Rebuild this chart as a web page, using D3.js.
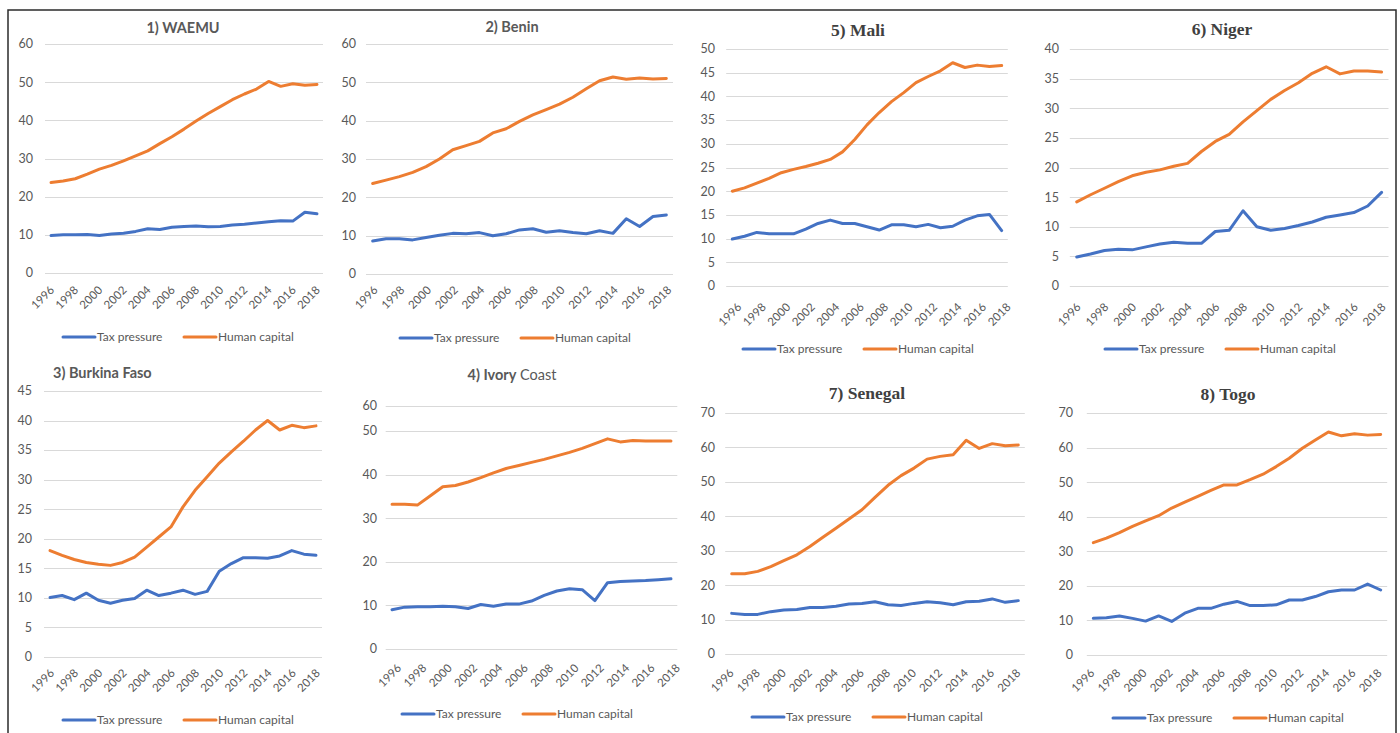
<!DOCTYPE html>
<html>
<head>
<meta charset="utf-8">
<script src="https://cdn.jsdelivr.net/npm/d3@7"></script>
<style>
  body { margin: 0; background: #fff; }
  svg { display: block; }
  text { font-family: Lato, "Open Sans", sans-serif; fill: #595959; }
</style>
</head>
<body>
<div id="chart"></div>
<script>
const years = [1996, 1997, 1998, 1999, 2000, 2001, 2002, 2003, 2004, 2005, 2006, 2007,
               2008, 2009, 2010, 2011, 2012, 2013, 2014, 2015, 2016, 2017, 2018];
const tickYears = [1996, 1998, 2000, 2002, 2004, 2006, 2008, 2010, 2012, 2014, 2016, 2018];
const seriesNames = ["Tax pressure", "Human capital"];
const seriesColors = ["#4472c4", "#ed7d31"];

const ticks60 = [0, 10, 20, 30, 40, 50, 60];
const ticks50 = [0, 5, 10, 15, 20, 25, 30, 35, 40, 45, 50];
const ticks45 = [0, 5, 10, 15, 20, 25, 30, 35, 40, 45];
const ticks40 = [0, 5, 10, 15, 20, 25, 30, 35, 40];
const ticks70 = [0, 10, 20, 30, 40, 50, 60, 70];

const waemuTax   = [9.8, 10.0, 10.0, 10.1, 9.8, 10.2, 10.4, 10.9, 11.6, 11.4, 12.0, 12.2, 12.3, 12.1, 12.2, 12.6, 12.8, 13.1, 13.4, 13.7, 13.6, 15.9, 15.5];
const waemuHuman = [23.7, 24.1, 24.7, 25.9, 27.2, 28.2, 29.4, 30.7, 32.0, 33.9, 35.7, 37.7, 39.8, 41.8, 43.6, 45.4, 46.9, 48.2, 50.2, 48.9, 49.6, 49.2, 49.4];

const beninTax   = [8.6, 9.2, 9.2, 8.9, 9.5, 10.1, 10.6, 10.5, 10.8, 10.0, 10.5, 11.5, 11.8, 10.9, 11.3, 10.8, 10.5, 11.3, 10.6, 14.4, 12.4, 15.0, 15.4];
const beninHuman = [23.6, 24.5, 25.4, 26.5, 28.0, 30.0, 32.4, 33.5, 34.6, 36.8, 37.9, 39.8, 41.5, 42.9, 44.3, 46.1, 48.3, 50.4, 51.4, 50.8, 51.1, 50.9, 51.0];

const burkinaTax   = [10.05, 10.4, 9.7, 10.8, 9.6, 9.1, 9.6, 9.9, 11.3, 10.4, 10.8, 11.3, 10.6, 11.1, 14.5, 15.8, 16.8, 16.8, 16.7, 17.1, 18.0, 17.4, 17.2];
const burkinaHuman = [18.0, 17.2, 16.5, 16.0, 15.7, 15.5, 16.0, 16.9, 18.6, 20.3, 22.0, 25.4, 28.2, 30.5, 32.8, 34.7, 36.5, 38.4, 40.0, 38.4, 39.2, 38.8, 39.1];

const ivoryTax   = [9.0, 9.6, 9.7, 9.7, 9.8, 9.7, 9.3, 10.2, 9.8, 10.3, 10.3, 11.0, 12.3, 13.3, 13.8, 13.6, 11.1, 15.2, 15.5, 15.6, 15.7, 15.9, 16.1];
const ivoryHuman = [33.2, 33.2, 33.0, 35.1, 37.2, 37.5, 38.3, 39.3, 40.4, 41.4, 42.1, 42.8, 43.5, 44.3, 45.1, 46.0, 47.1, 48.2, 47.5, 47.8, 47.7, 47.7, 47.7];

const maliTax   = [9.9, 10.5, 11.3, 11.0, 11.0, 11.0, 12.0, 13.2, 13.9, 13.2, 13.2, 12.5, 11.8, 12.9, 12.9, 12.5, 13.0, 12.3, 12.6, 13.9, 14.8, 15.1, 11.7];
const maliHuman = [20.0, 20.7, 21.7, 22.7, 23.9, 24.6, 25.2, 25.9, 26.7, 28.3, 30.9, 34.0, 36.6, 38.9, 40.8, 42.9, 44.2, 45.4, 47.1, 46.1, 46.6, 46.3, 46.5];

const nigerTax   = [4.9, 5.4, 6.0, 6.2, 6.1, 6.6, 7.1, 7.4, 7.2, 7.2, 9.2, 9.4, 12.7, 10.0, 9.4, 9.7, 10.2, 10.8, 11.6, 12.0, 12.4, 13.5, 15.8];
const nigerHuman = [14.2, 15.4, 16.5, 17.6, 18.6, 19.2, 19.6, 20.2, 20.7, 22.7, 24.4, 25.6, 27.7, 29.6, 31.5, 33.0, 34.3, 35.9, 37.0, 35.8, 36.3, 36.3, 36.1];

const senegalTax   = [11.8, 11.5, 11.5, 12.3, 12.8, 12.9, 13.5, 13.5, 13.9, 14.5, 14.7, 15.2, 14.3, 14.1, 14.7, 15.2, 14.9, 14.3, 15.2, 15.3, 16.0, 15.0, 15.5];
const senegalHuman = [23.3, 23.3, 24.0, 25.4, 27.1, 28.8, 31.2, 33.9, 36.5, 39.2, 41.9, 45.5, 49.0, 51.8, 54.0, 56.6, 57.4, 57.9, 62.1, 59.7, 61.1, 60.5, 60.7];

const togoTax   = [10.6, 10.8, 11.3, 10.6, 9.8, 11.3, 9.7, 12.1, 13.5, 13.5, 14.7, 15.5, 14.3, 14.3, 14.5, 15.9, 15.9, 16.9, 18.3, 18.8, 18.8, 20.5, 18.8];
const togoHuman = [32.5, 33.8, 35.4, 37.2, 38.8, 40.3, 42.5, 44.2, 45.9, 47.6, 49.2, 49.2, 50.7, 52.3, 54.5, 56.9, 59.8, 62.2, 64.5, 63.4, 64.0, 63.6, 63.8];

// layout of the eight small charts (pixel boxes copied off the figure)
const panels = [
  { title: ["1) WAEMU"], serif: false, tax: waemuTax, human: waemuHuman, ticks: ticks60,
    xr: [45, 323], yd: [0, 60], yr: [273, 44], labelX: 33, titleX: 183, titleY: 28, titleAnchor: "middle",
    lab: [1, 15], legendX: 63, legendY: 337 },
  { title: ["2) Benin"], serif: false, tax: beninTax, human: beninHuman, ticks: ticks60,
    xr: [366, 673], yd: [0, 60], yr: [274, 44], labelX: 356, titleX: 512, titleY: 27, titleAnchor: "middle",
    lab: [3, 14], legendX: 400, legendY: 338 },
  { title: ["3) Burkina Faso"], serif: false, tax: burkinaTax, human: burkinaHuman, ticks: ticks45,
    xr: [44, 322], yd: [0, 45], yr: [657, 391], labelX: 32, titleX: 53, titleY: 373, titleAnchor: "start",
    lab: [2, 14], legendX: 63, legendY: 720 },
  { title: ["4) Ivory", " Coast"], serif: false, tax: ivoryTax, human: ivoryHuman, ticks: ticks60,
    xr: [385.7, 677.3], yd: [0, 50, 60], yr: [649, 431, 406], labelX: 377, titleX: 512, titleY: 375, titleAnchor: "middle",
    lab: [7, 17], legendX: 402, legendY: 714 },
  { title: ["5) Mali"], serif: true, tax: maliTax, human: maliHuman, ticks: ticks50,
    xr: [726.2, 1007.8], yd: [0, 50], yr: [286, 49], labelX: 715, titleX: 858, titleY: 30, titleAnchor: "middle",
    lab: [7, 19], legendX: 743, legendY: 349 },
  { title: ["6) Niger"], serif: true, tax: nigerTax, human: nigerHuman, ticks: ticks40,
    xr: [1069.8, 1388.5], yd: [0, 40], yr: [286, 49], labelX: 1059, titleX: 1222, titleY: 29, titleAnchor: "middle",
    lab: [2, 19], legendX: 1105, legendY: 349 },
  { title: ["7) Senegal"], serif: true, tax: senegalTax, human: senegalHuman, ticks: ticks70,
    xr: [725.2, 1024.8], yd: [0, 70], yr: [654, 413], labelX: 715, titleX: 867, titleY: 393, titleAnchor: "middle",
    lab: [0, 17], legendX: 752, legendY: 717 },
  { title: ["8) Togo"], serif: true, tax: togoTax, human: togoHuman, ticks: ticks70,
    xr: [1086.8, 1387.2], yd: [0, 70], yr: [655, 413], labelX: 1073, titleX: 1228, titleY: 394, titleAnchor: "middle",
    lab: [-1, 16], legendX: 1113, legendY: 718 }
];

const width = 1400, height = 733;

let svg = d3.select("#chart")
  .append("svg")
  .attr("width", width)
  .attr("height", height);

// frame round the whole figure (bottom edge is cut off)
svg.append("path")
  .attr("d", `M8,733 L8,10 L1396,10 L1396,733`)
  .attr("fill", "none")
  .attr("stroke", "#2b2b2b")
  .attr("stroke-width", 1.5);

panels.forEach(function(p) {
  let g = svg.append("g");

  let x = d3.scaleBand().domain(years).range(p.xr);
  let y = d3.scaleLinear().domain(p.yd).range(p.yr);
  let cx = d => x(d) + x.bandwidth() / 2;

  // gridlines
  g.append("g")
    .selectAll("line")
    .data(p.ticks)
    .enter()
    .append("line")
    .attr("x1", p.xr[0])
    .attr("x2", p.xr[1])
    .attr("y1", d => Math.round(y(d)) + 0.5)
    .attr("y2", d => Math.round(y(d)) + 0.5)
    .attr("stroke", "#d9d9d9")
    .attr("stroke-width", 1);

  // y labels
  g.append("g")
    .selectAll("text")
    .data(p.ticks)
    .enter()
    .append("text")
    .attr("x", p.labelX)
    .attr("y", d => y(d))
    .attr("dy", "0.35em")
    .attr("text-anchor", "end")
    .style("font-size", "12.5px")
    .text(d => d);

  // x labels, rotated
  g.append("g")
    .selectAll("text")
    .data(tickYears)
    .enter()
    .append("text")
    .attr("transform", d => `translate(${cx(d) + p.lab[0]}, ${p.yr[0] + p.lab[1]}) rotate(-45)`)
    .attr("dy", "0.35em")
    .attr("text-anchor", "end")
    .style("font-size", "11.5px")
    .text(d => d);

  // lines
  let line = d3.line()
    .x((d, i) => cx(years[i]))
    .y(d => y(d));

  [p.tax, p.human].forEach(function(vals, k) {
    g.append("path")
      .datum(vals)
      .attr("d", line)
      .attr("fill", "none")
      .attr("stroke", seriesColors[k])
      .attr("stroke-width", 3)
      .attr("stroke-linejoin", "round")
      .attr("stroke-linecap", "round");
  });

  // title
  let t = g.append("text")
    .attr("x", p.titleX)
    .attr("y", p.titleY)
    .attr("dy", "0.35em")
    .attr("text-anchor", p.titleAnchor)
    .style("font-size", p.serif ? "17.5px" : "14.5px")
    .style("font-family", p.serif ? "'Liberation Serif', 'DejaVu Serif', serif" : null)
    .style("fill", p.serif ? "#404040" : "#595959");
  p.title.forEach(function(part, i) {
    t.append("tspan")
      .style("font-weight", i == 0 ? "bold" : "normal")
      .text(part);
  });

  // legend
  let lg = g.append("g").attr("transform", `translate(${p.legendX}, ${p.legendY})`);
  seriesNames.forEach(function(name, k) {
    let off = k * 121;
    lg.append("line")
      .attr("x1", off).attr("x2", off + 32)
      .attr("y1", 0).attr("y2", 0)
      .attr("stroke", seriesColors[k])
      .attr("stroke-width", 3)
      .attr("stroke-linecap", "round");
    lg.append("text")
      .attr("x", off + 34)
      .attr("y", 0)
      .attr("dy", "0.35em")
      .style("font-size", "12px")
      .text(name);
  });
});
</script>
</body>
</html>
